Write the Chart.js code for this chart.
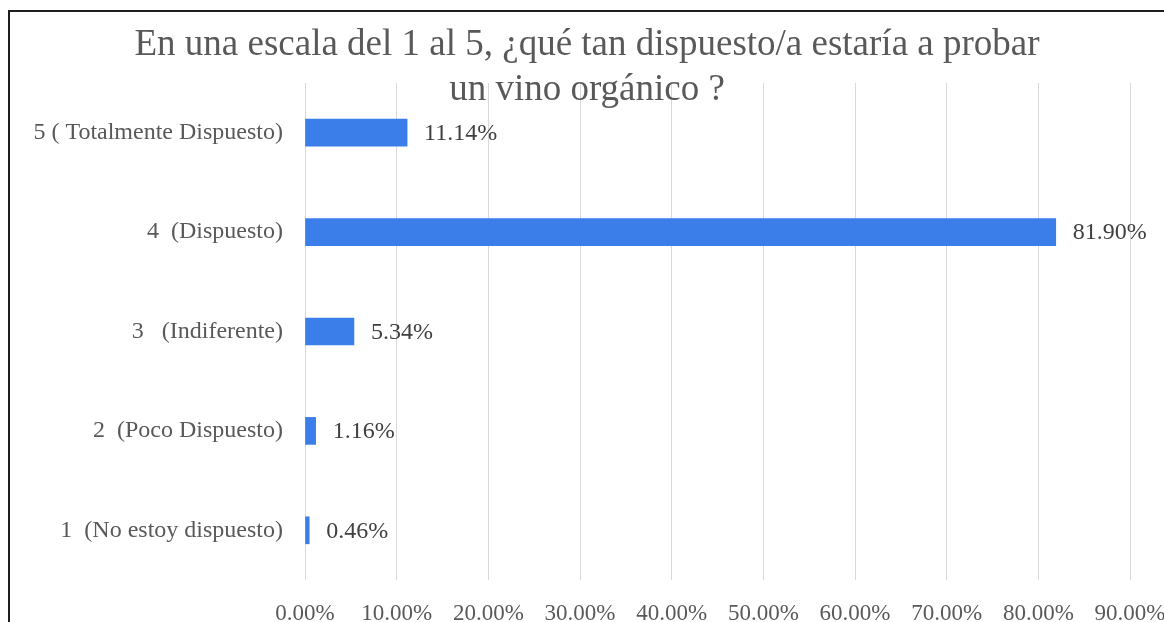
<!DOCTYPE html>
<html lang="es">
<head>
<meta charset="utf-8">
<title>Disposición a probar un vino orgánico</title>
<script src="https://cdn.jsdelivr.net/npm/chart.js@4.4.1/dist/chart.umd.min.js"></script>
<style>
  html, body { margin: 0; padding: 0; background: #ffffff; overflow: hidden; }
  #frame {
    position: absolute; left: 8px; top: 10px; width: 1200px; height: 700px;
    border-left: 2px solid #1e1e1e; border-top: 2px solid #1e1e1e;
    pointer-events: none;
  }
  #wrap { position: absolute; left: 6px; top: 0; width: 1220px; height: 660px; }
</style>
</head>
<body>
<div id="wrap"><canvas id="chart"></canvas></div>
<div id="frame"></div>
<script>
// Survey answers, listed from top to bottom as drawn
const categories = [
  '5 ( Totalmente Dispuesto)',
  '4  (Dispuesto)',
  '3   (Indiferente)',
  '2  (Poco Dispuesto)',
  '1  (No estoy dispuesto)'
];
const percentages = [11.14, 81.90, 5.34, 1.16, 0.46];
const titleLines = [
  'En una escala del 1 al 5, ¿qué tan dispuesto/a estaría a probar',
  'un vino orgánico ?'
];
const axisMin = 0;
const axisMax = 90;
const axisStep = 10;

const serif = '"Liberation Serif", "Times New Roman", serif';

// Title drawn over the plot, centred on the frame
const titlePlugin = {
  id: 'overlayTitle',
  afterDraw(chart) {
    const ctx = chart.ctx;
    ctx.save();
    ctx.font = '37px ' + serif;
    ctx.fillStyle = '#595959';
    ctx.textAlign = 'center';
    ctx.textBaseline = 'alphabetic';
    const cx = 587 - 6;
    ctx.fillText(titleLines[0], cx, 55);
    ctx.fillText(titleLines[1], cx, 100);
    ctx.restore();
  }
};

// Percentage labels placed just past the end of each bar
const valueLabels = {
  id: 'valueLabels',
  afterDatasetsDraw(chart) {
    const ctx = chart.ctx;
    const meta = chart.getDatasetMeta(0);
    ctx.save();
    ctx.font = '24px ' + serif;
    ctx.fillStyle = '#404040';
    ctx.textAlign = 'left';
    ctx.textBaseline = 'middle';
    meta.data.forEach((bar, i) => {
      const v = chart.data.datasets[0].data[i];
      ctx.fillText(v.toFixed(2) + '%', bar.x + 17, bar.y + 1);
    });
    ctx.restore();
  }
};

new Chart(document.getElementById('chart'), {
  type: 'bar',
  data: {
    labels: categories,
    datasets: [{
      data: percentages,
      backgroundColor: '#3b7eea',
      borderWidth: 0,
      barThickness: 27
    }]
  },
  options: {
    indexAxis: 'y',
    responsive: true,
    maintainAspectRatio: false,
    animation: false,
    layout: { padding: { top: 83, right: 96, bottom: 0, left: 0 } },
    plugins: {
      legend: { display: false },
      title: { display: false },
      tooltip: { enabled: false }
    },
    scales: {
      x: {
        min: axisMin,
        max: axisMax,
        border: { display: false },
        grid: { color: '#d9d9d9', lineWidth: 1, drawTicks: false },
        afterFit(scale) { scale.height = 80; },
        ticks: {
          stepSize: axisStep,
          padding: 20,
          color: '#595959',
          font: { family: serif, size: 23 },
          maxRotation: 0,
          autoSkip: false,
          callback: v => Number(v).toFixed(2) + '%'
        }
      },
      y: {
        border: { display: false },
        grid: { display: false, drawTicks: false },
        afterFit(scale) { scale.width = 299; },
        ticks: {
          padding: 22,
          color: '#595959',
          font: { family: serif, size: 24 }
        }
      }
    }
  },
  plugins: [titlePlugin, valueLabels]
});
</script>
</body>
</html>
